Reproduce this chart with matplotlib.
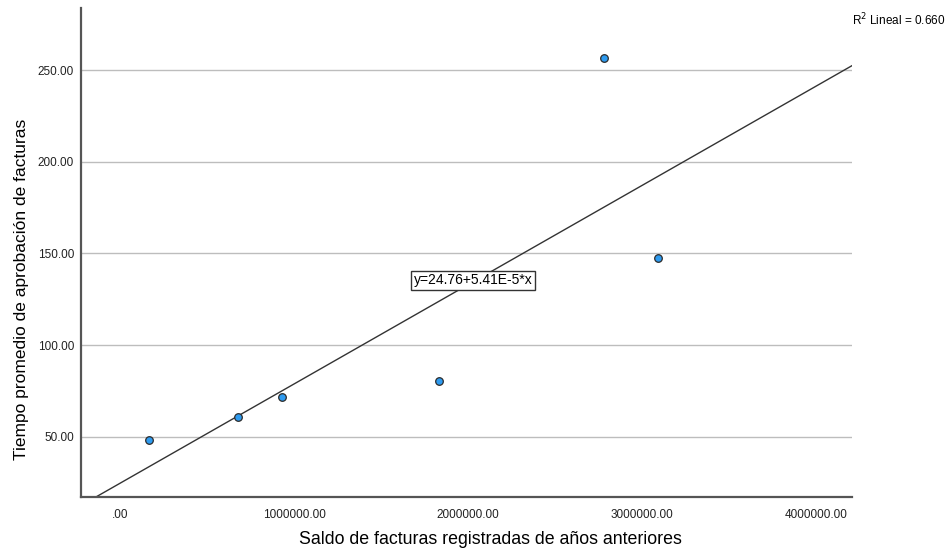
import numpy as np
import matplotlib
matplotlib.use("Agg")
import matplotlib.pyplot as plt

plt.rcParams['font.family'] = ['Liberation Sans', 'DejaVu Sans']

# balance of invoices from previous years vs. mean approval time
saldo = [167000, 678000, 931000, 1833000, 2780000, 3090000]
tiempo = [48.4, 60.9, 71.8, 80.5, 256.5, 147.8]

# fitted line as reported
intercept = 24.76
slope = 5.41e-5
r2 = 0.660

x_ticks = [0, 1000000, 2000000, 3000000, 4000000]
x_tick_labels = ['.00', '1000000.00', '2000000.00', '3000000.00', '4000000.00']
y_ticks = [50, 100, 150, 200, 250]
y_tick_labels = ['50.00', '100.00', '150.00', '200.00', '250.00']

fig = plt.figure(figsize=(9.5, 5.51), dpi=100)
ax = fig.add_axes([0.0853, 0.0971, 0.8115, 0.8884])

xmin, xmax = -224000, 4207000
ymin, ymax = 17, 283.8

for yt in y_ticks:
    ax.axhline(yt, color='#bdbdbd', lw=1.0, zorder=1)

xs = np.array([xmin, xmax])
ax.plot(xs, intercept + slope * xs, color='#333333', lw=1.0, zorder=2)

ax.scatter(saldo, tiempo, s=30, color='#2e9bf0', edgecolor='#2b2b2b',
           linewidth=0.9, zorder=3)

ax.text(2030000, 135.3, f"y={intercept:.2f}+{slope * 1e5:.2f}E-5*x",
        ha='center', va='center', fontsize=10, color='black', zorder=4,
        bbox=dict(boxstyle='square,pad=0.2', fc='white', ec='#333333', lw=1.0))

ax.set_xlim(xmin, xmax)
ax.set_ylim(ymin, ymax)
ax.set_xticks(x_ticks)
ax.set_xticklabels(x_tick_labels)
ax.set_yticks(y_ticks)
ax.set_yticklabels(y_tick_labels)
ax.tick_params(axis='x', length=0, labelsize=8.5, colors='#222222', pad=8)
ax.tick_params(axis='y', length=0, labelsize=8.5, colors='#222222', pad=5)

for side in ('top', 'right'):
    ax.spines[side].set_visible(False)
for side in ('left', 'bottom'):
    ax.spines[side].set_color('#555555')
    ax.spines[side].set_linewidth(1.6)

fig.text(490 / 950, 1 - 540 / 551,
         'Saldo de facturas registradas de años anteriores',
         ha='center', va='center', fontsize=12.8)
fig.text(22 / 950, 1 - 289 / 551,
         'Tiempo promedio de aprobación de facturas',
         ha='center', va='center', rotation=90, fontsize=12.5)

fig.text(0.995, 0.963, f"R$^2$ Lineal = {r2:.3f}", ha='right', va='center',
         fontsize=8.5)

fig.savefig('out.png', dpi=100)
